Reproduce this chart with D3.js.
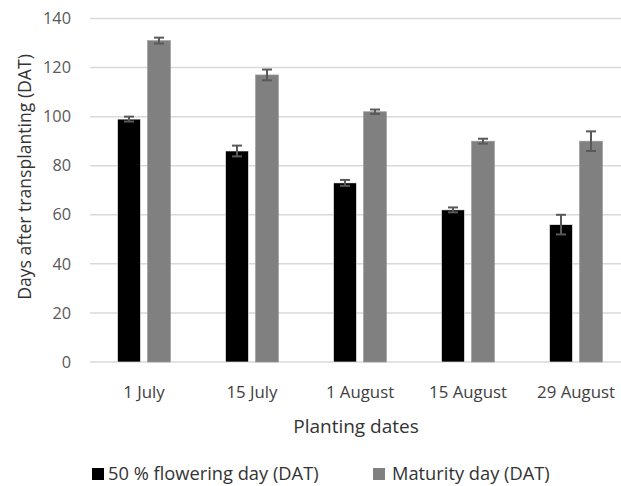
<!DOCTYPE html>
<html>
<head>
<meta charset="utf-8">
<script src="https://cdn.jsdelivr.net/npm/d3@7"></script>
<style>
  body { margin: 0; background: #fff; }
  text { font-family: "Open Sans", "Noto Sans", sans-serif; }
</style>
</head>
<body>
<svg id="chart" width="621" height="486"></svg>
<script>
// planting dates and the two series (mean, error)
const dates = ['1 July', '15 July', '1 August', '15 August', '29 August'];
const flowering = [99, 86, 73, 62, 56];
const floweringErr = [1, 2.2, 1.2, 1, 4];
const maturity = [131, 117, 102, 90, 90];
const maturityErr = [1.2, 2.2, 0.9, 1, 4];
const seriesNames = ['50 % flowering day (DAT)', 'Maturity day (DAT)'];
const yTicks = [0, 20, 40, 60, 80, 100, 120, 140];

const colors = ['#000000', '#808080'];

const svg = d3.select('#chart');
const plotLeft = 90, plotRight = 630, plotTop = 18.5, plotBottom = 362;

const x = d3.scaleBand().domain(dates).range([plotLeft, plotRight]);
const y = d3.scaleLinear().domain([0, 140]).range([plotBottom, plotTop]);

// grid
svg.append('g').selectAll('line')
  .data(yTicks)
  .join('line')
  .attr('x1', plotLeft).attr('x2', plotRight)
  .attr('y1', d => y(d)).attr('y2', d => y(d))
  .attr('stroke', '#d9d9d9').attr('stroke-width', 1.5);

// y tick labels
svg.append('g').selectAll('text')
  .data(yTicks)
  .join('text')
  .attr('x', 71).attr('y', d => y(d))
  .attr('dy', '0.35em')
  .attr('text-anchor', 'end')
  .attr('fill', '#595959')
  .attr('font-size', 16.3)
  .text(d => d);

const barW = 23, gap = 7;
const series = [
  { vals: flowering, err: floweringErr, off: -gap / 2 - barW },
  { vals: maturity, err: maturityErr, off: gap / 2 }
];

series.forEach((s, i) => {
  const g = svg.append('g');
  g.selectAll('rect')
    .data(dates)
    .join('rect')
    .attr('x', d => x(d) + x.bandwidth() / 2 + s.off)
    .attr('y', (d, j) => y(s.vals[j]))
    .attr('width', barW)
    .attr('height', (d, j) => plotBottom - y(s.vals[j]))
    .attr('fill', colors[i])
    .attr('stroke', i === 1 ? '#9a9a9a' : '#ffffff')
    .attr('stroke-width', 0.6);

  // error bars
  const eb = svg.append('g').attr('stroke', '#595959').attr('stroke-width', 2);
  dates.forEach((d, j) => {
    const cx = x(d) + x.bandwidth() / 2 + s.off + barW / 2;
    const y1 = y(s.vals[j] + s.err[j]), y2 = y(s.vals[j] - s.err[j]);
    eb.append('line').attr('x1', cx).attr('x2', cx).attr('y1', y1).attr('y2', y2);
    eb.append('line').attr('x1', cx - 5).attr('x2', cx + 5).attr('y1', y1).attr('y2', y1);
    eb.append('line').attr('x1', cx - 5).attr('x2', cx + 5).attr('y1', y2).attr('y2', y2);
  });
});

// x tick labels
svg.append('g').selectAll('text')
  .data(dates)
  .join('text')
  .attr('x', d => x(d) + x.bandwidth() / 2)
  .attr('y', 398)
  .attr('text-anchor', 'middle')
  .attr('fill', '#404040')
  .attr('font-size', 16.8)
  .text(d => d);

// axis titles
svg.append('text')
  .attr('x', 356).attr('y', 433)
  .attr('text-anchor', 'middle')
  .attr('fill', '#333333')
  .attr('font-size', 19)
  .text('Planting dates');

svg.append('text')
  .attr('transform', 'translate(31,177) rotate(-90)')
  .attr('text-anchor', 'middle')
  .attr('fill', '#333333')
  .attr('font-size', 17.6)
  .text('Days after transplanting (DAT)');

// legend
const legX = [92, 373];
const leg = svg.append('g').selectAll('g')
  .data(seriesNames)
  .join('g')
  .attr('transform', (d, i) => 'translate(' + legX[i] + ',480)');
leg.append('rect')
  .attr('x', 0).attr('y', -12)
  .attr('width', 12).attr('height', 12)
  .attr('fill', (d, i) => colors[i]);
leg.append('text')
  .attr('x', (d, i) => i === 0 ? 16 : 19).attr('y', 0)
  .attr('fill', '#333333')
  .attr('font-size', 18.3)
  .text(d => d);
</script>
</body>
</html>
